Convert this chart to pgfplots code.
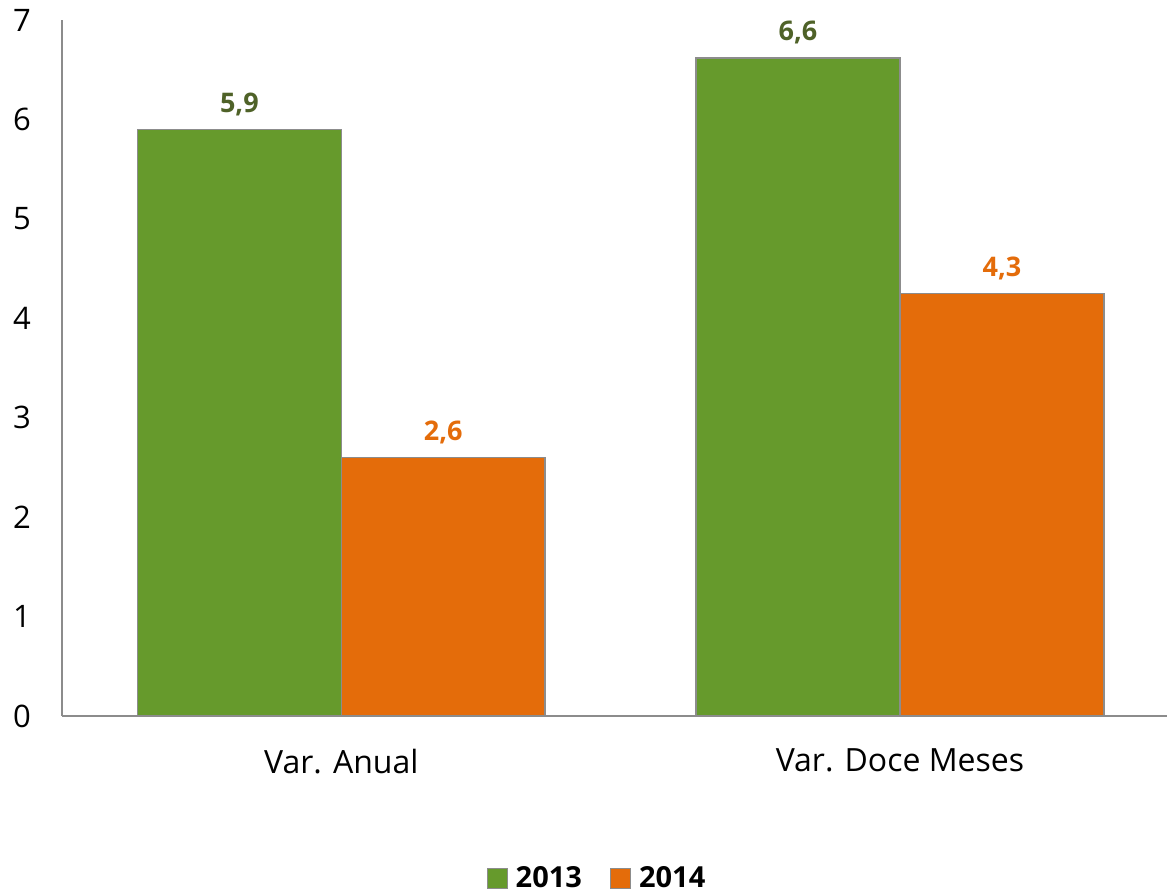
\documentclass[border=0pt]{standalone}
\usepackage{pgfplots}
\pgfplotsset{compat=1.18}
\usepackage{fontspec}
\setmainfont{Open Sans}
\definecolor{BarGreen}{HTML}{669A2C}
\definecolor{BarOrange}{HTML}{E46C0A}
\definecolor{LabGreen}{HTML}{4F6228}
\definecolor{EdgeGray}{HTML}{8C8C8C}
\begin{document}
\begin{tikzpicture}[x=1pt,y=1pt]
\begin{axis}[
  name=ax,
  scale only axis,
  width=552.5pt, height=348pt,
  ymin=0, ymax=7,
  xmin=-0.5, xmax=1.478,
  ybar=0pt,
  bar width=0.365,
  xtick={0,1},
  xticklabels={Var. Anual, Var. Doce Meses},
  ytick={0,1,...,7},
  major tick length=0pt,
  axis x line*=bottom,
  axis y line*=left,
  axis line style={EdgeGray, line width=0.9pt, -},
  /pgf/number format/assume math mode=true,
  yticklabel style={font=\fontsize{15.5}{18}\selectfont, xshift=-12pt},
  xticklabel style={font=\fontsize{16}{19}\selectfont, yshift=-13pt},
  point meta=explicit symbolic,
  nodes near coords,
  nodes near coords style={font=\fontsize{13.5}{16}\selectfont\bfseries, yshift=3pt},
  legend style={at={(0.485,-0.233)}, anchor=center, legend columns=2, draw=none,
    font=\fontsize{14.5}{17}\selectfont\bfseries,
    /tikz/every odd column/.append style={column sep=2pt},
    /tikz/every even column/.append style={column sep=12pt}},
  legend image code/.code={\draw[#1, draw=EdgeGray, line width=0.6pt] (0pt,-5pt) rectangle (10pt,5pt);},
]
\addplot[fill=BarGreen, draw=EdgeGray, line width=0.8pt,
  every node near coord/.append style={text=LabGreen}]
  coordinates {(0,5.9) [5,9] (1,6.62) [6,6]};
\addlegendentry{2013}
\addplot[fill=BarOrange, draw=EdgeGray, line width=0.8pt,
  every node near coord/.append style={text=BarOrange}]
  coordinates {(0,2.6) [2,6] (1,4.25) [4,3]};
\addlegendentry{2014}
\end{axis}
\pgfresetboundingbox
\useasboundingbox ([shift={(-31pt,-88.5pt)}]ax.south west) rectangle ([shift={(0pt,10pt)}]ax.north east);
\end{tikzpicture}
\end{document}
